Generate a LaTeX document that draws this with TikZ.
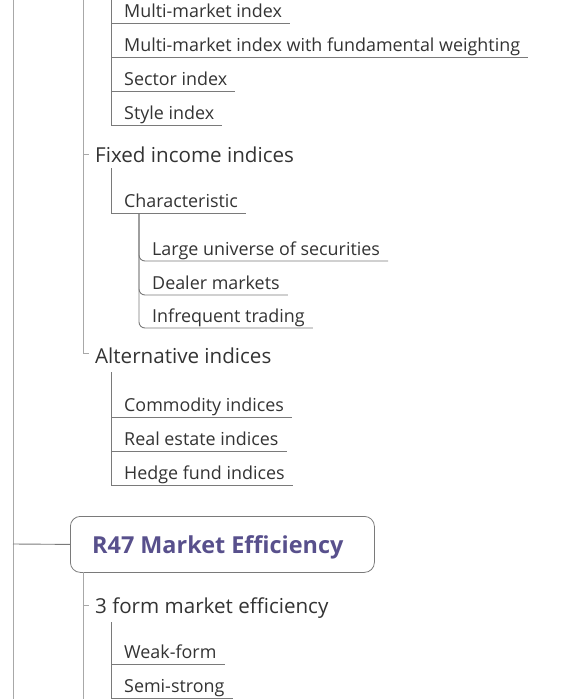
\documentclass[tikz,border=0pt]{standalone}
\usepackage{fontspec}
\setmainfont{Open Sans}
\usetikzlibrary{calc}
\definecolor{txt}{HTML}{333333}
\definecolor{ln}{HTML}{7A7A7A}
\definecolor{lnl}{HTML}{A8A8A8}
\definecolor{purp}{HTML}{58508C}
\begin{document}
\begin{tikzpicture}[x=1pt,y=-1pt,
  item/.style={anchor=base west,inner sep=0,text=txt,font=\fontsize{17.9}{20}\selectfont},
  topic/.style={anchor=base west,inner sep=0,text=txt,font=\fontsize{20.6}{24}\selectfont},
  ul/.style={draw=ln,line width=0.9pt},
  vl/.style={draw=ln,line width=0.9pt},
  vll/.style={draw=lnl,line width=0.9pt},
  main/.style={draw=ln,rounded corners=10pt,line width=0.8pt,minimum width=304pt,minimum height=56pt,anchor=north west,inner sep=0}
]
\useasboundingbox (0,0) rectangle (573,699);
\coordinate (vx) at (111,0);
% outer lines
\draw[vll] (13,0) -- (13,699);
\draw[vll] (83,0) -- (83,353) -- (89,353);
\draw[vll] (83,154) -- (89,154);
% equity sub-items
\node[item] (mm) at (124,17) {Multi-market index};
\node[item] (mmf) at (124,51) {Multi-market index with fundamental weighting};
\node[item] (sec) at (124,85) {Sector index};
\node[item] (sty) at (124,119) {Style index};
\draw[vl] (111,0) -- (111,125);
\foreach \n in {mm,mmf,sec,sty}{
  \coordinate (u) at ($(\n.base east)+(8,6)$);
  \draw[ul] (vx |- u) -- (u);
}
% fixed income
\node[topic] (fi) at (95,162) {Fixed income indices};
\node[item] (ch) at (124,207) {Characteristic};
\coordinate (chu) at ($(ch.base east)+(8,6)$);
\draw[vl] (111,168) |- (chu);
\node[item] (lu) at (152,255) {Large universe of securities};
\node[item] (dm) at (152,289) {Dealer markets};
\node[item] (it) at (152,322) {Infrequent trading};
\foreach \n in {lu,dm,it}{
  \coordinate (u) at ($(\n.base east)+(8,6)$);
  \draw[ul,rounded corners=6pt] (139,213) |- (u);
}
% alternative
\node[topic] (alt) at (95,363) {Alternative indices};
\node[item] (com) at (124,411) {Commodity indices};
\node[item] (re) at (124,445) {Real estate indices};
\node[item] (hf) at (124,479) {Hedge fund indices};
\draw[vl] (111,372) -- (111,485);
\foreach \n in {com,re,hf}{
  \coordinate (u) at ($(\n.base east)+(8,6)$);
  \draw[ul] (vx |- u) -- (u);
}
% R47
\node[main] (r47) at (70,516) {};
\node[anchor=base west,inner sep=0,text=purp,font=\fontsize{23.4}{26}\selectfont\bfseries] (r47t) at (92,553) {R47 Market Efficiency};
\draw[vl] (13,544) -- (r47.west);
\draw[vll] (83,572) -- (83,699);
\draw[vll] (83,605) -- (89,605);
\node[topic] (tf) at (95,613) {3 form market efficiency};
\node[item] (wf) at (124,658) {Weak-form};
\node[item] (ss) at (124,692) {Semi-strong};
\draw[vl] (111,622) -- (111,699);
\foreach \n in {wf,ss}{
  \coordinate (u) at ($(\n.base east)+(8,6)$);
  \draw[ul] (vx |- u) -- (u);
}
\end{tikzpicture}
\end{document}
